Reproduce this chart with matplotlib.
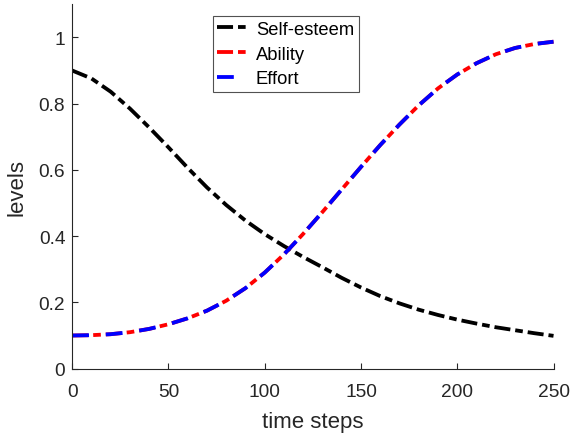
import matplotlib.pyplot as plt
import numpy as np

plt.rcParams['font.family'] = ['Liberation Sans', 'DejaVu Sans']

# time axis and levels, sampled every 10 steps
time_steps = np.arange(0, 251, 10)
self_esteem = [0.900, 0.876, 0.836, 0.785, 0.728, 0.668, 0.606, 0.547, 0.494, 0.447,
               0.406, 0.370, 0.337, 0.306, 0.274, 0.245, 0.219, 0.197, 0.178, 0.162,
               0.148, 0.136, 0.125, 0.116, 0.107, 0.099]
ability = [0.100, 0.101, 0.104, 0.110, 0.120, 0.134, 0.152, 0.175, 0.205, 0.243,
           0.290, 0.345, 0.407, 0.473, 0.541, 0.609, 0.675, 0.737, 0.795, 0.846,
           0.888, 0.922, 0.949, 0.968, 0.980, 0.987]
effort = list(ability)

labels = ['Self-esteem', 'Ability', 'Effort']
ink = '#262626'

fig = plt.figure(figsize=(5.73, 4.39), dpi=100)
ax = fig.add_axes([0.126, 0.158, 0.840, 0.830])

# dash-dot for self-esteem and ability, long dashes for effort on top
lw = 2.75
dashdot = [4.2, 1.3, 2.0, 1.3]
l1, = ax.plot(time_steps, self_esteem, color='black', lw=lw, label=labels[0])
l1.set_dashes(dashdot)
l2, = ax.plot(time_steps, ability, color='red', lw=lw, label=labels[1])
l2.set_dashes(dashdot)
l3, = ax.plot(time_steps, effort, color='blue', lw=lw, label=labels[2])
l3.set_dashes([4.4, 4.4])

ax.set_xlim(0, 250)
ax.set_ylim(0, 1.1)
ax.set_xticks([0, 50, 100, 150, 200, 250])
ax.set_yticks([0, 0.2, 0.4, 0.6, 0.8, 1])
ax.set_yticklabels(['0', '0.2', '0.4', '0.6', '0.8', '1'])

for s in ['top', 'right']:
    ax.spines[s].set_visible(False)
for s in ['left', 'bottom']:
    ax.spines[s].set_color(ink)
    ax.spines[s].set_linewidth(0.8)
ax.tick_params(direction='in', length=4, width=0.8, color=ink,
               labelcolor=ink, labelsize=13.8)
ax.tick_params(axis='x', pad=10.5)
ax.tick_params(axis='y', pad=5)

ax.set_xlabel('time steps', fontsize=16, color=ink, labelpad=8)
ax.set_ylabel('levels', fontsize=16, color=ink, labelpad=8)

leg = ax.legend(loc='upper left', bbox_to_anchor=(212.7 / 573, 1 - 17.3 / 439),
                bbox_transform=fig.transFigure, fontsize=13.2, frameon=True,
                fancybox=False, handlelength=1.8, handletextpad=0.3,
                borderpad=0.25, labelspacing=0.42, borderaxespad=0)
leg.get_frame().set_edgecolor(ink)
leg.get_frame().set_linewidth(0.8)

fig.savefig('out.png', dpi=100)
